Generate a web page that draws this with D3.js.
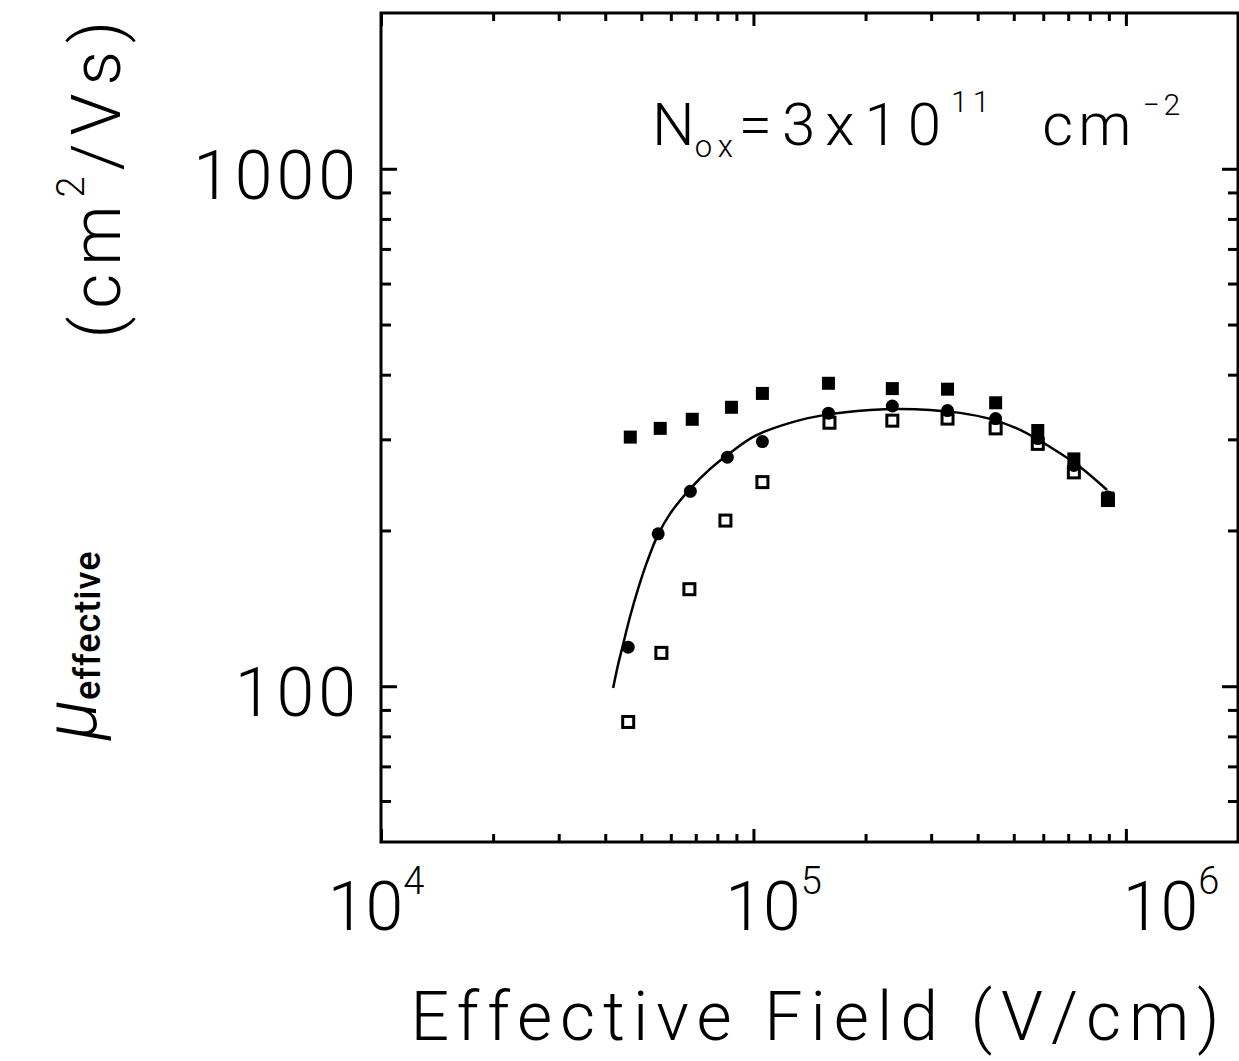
<!DOCTYPE html>
<html>
<head>
<meta charset="utf-8">
<script src="https://cdn.jsdelivr.net/npm/d3@7"></script>
<style>
  body { margin: 0; background: #fff; }
  text { font-family: Roboto, "Liberation Sans", sans-serif; font-weight: 300; fill: #000; }
  .domain { stroke: none; }
  .tick line { stroke: #000; stroke-width: 3; }
</style>
</head>
<body>
<svg id="chart" width="1239" height="1061"></svg>
<script>
// effective field (V/cm) and mobility (cm^2/Vs)
const fieldFilledSq = [46700, 56200, 68500, 87300, 105700, 159000, 236000, 332000, 447000, 580000, 725000, 895000];
const muFilledSq    = [303, 315, 328, 346, 368, 385, 376, 375, 353, 312, 275, 231];

const fieldCircle = [46100, 55500, 67700, 85100, 105700, 159000, 236000, 332000, 447000, 580000, 725000, 895000];
const muCircle    = [119, 197, 238, 277, 297, 337, 348, 341, 329, 301, 267, 232];

const fieldOpenSq = [46100, 56600, 67300, 84100, 105700, 160000, 236000, 332000, 447000, 580000, 725000, 895000];
const muOpenSq    = [85.3, 116, 154, 209, 248, 323, 326, 329, 315, 294, 259, 229];

// fitted curve
const fieldFit = [42000, 43300, 44700, 46600, 49000, 51800, 55400, 59700, 67600, 76500, 86500, 101000, 125400,
                  155700, 205600, 247600, 298000, 358800, 431900, 519900, 625900, 753400, 890000];
const muFit    = [99.2, 110, 120.7, 136.1, 154.2, 173.9, 196.1, 215.3, 240.6, 263, 282.4, 304.6, 322.8,
                  334.5, 342, 343.5, 342, 337.5, 328.6, 312.9, 290, 265.4, 239.5];

const xMajor = [1e4, 1e5, 1e6];
const xMinor = [2e4, 3e4, 4e4, 5e4, 6e4, 7e4, 8e4, 9e4, 2e5, 3e5, 4e5, 5e5, 6e5, 7e5, 8e5, 9e5, 2e6];
const yMajor = [100, 1000];
const yMinor = [60, 70, 80, 90, 200, 300, 400, 500, 600, 700, 800, 900];
const xTickExp = ['4', '5', '6'];

const svg = d3.select('#chart');
const plotL = 381, plotR = 1238, plotT = 13, plotB = 842;

const xScale = d3.scaleLog().domain([1e4, 2e6]).range([plotL, plotR]);
const yScale = d3.scaleLog().domain([50, 2000]).range([plotB, plotT]);
// the printed exponent labels sit a little right of their ticks
const xLabelScale = d3.scaleLog().domain([1e4, 1e6]).range([376, 1171]);

const fmt = () => '';

//ticks
svg.append('g').attr('transform', `translate(0,${plotB})`)
   .call(d3.axisBottom(xScale).tickValues(xMajor).tickSize(-13).tickFormat(fmt));
svg.append('g').attr('transform', `translate(0,${plotB})`)
   .call(d3.axisBottom(xScale).tickValues(xMinor).tickSize(-8).tickFormat(fmt));
svg.append('g').attr('transform', `translate(0,${plotT})`)
   .call(d3.axisTop(xScale).tickValues(xMajor).tickSize(-13).tickFormat(fmt));
svg.append('g').attr('transform', `translate(0,${plotT})`)
   .call(d3.axisTop(xScale).tickValues(xMinor).tickSize(-8).tickFormat(fmt));
svg.append('g').attr('transform', `translate(${plotL},0)`)
   .call(d3.axisLeft(yScale).tickValues(yMajor).tickSize(-16).tickFormat(fmt));
svg.append('g').attr('transform', `translate(${plotL},0)`)
   .call(d3.axisLeft(yScale).tickValues(yMinor).tickSize(-10).tickFormat(fmt));
svg.append('g').attr('transform', `translate(${plotR},0)`)
   .call(d3.axisRight(yScale).tickValues(yMajor).tickSize(-16).tickFormat(fmt));
svg.append('g').attr('transform', `translate(${plotR},0)`)
   .call(d3.axisRight(yScale).tickValues(yMinor).tickSize(-10).tickFormat(fmt));

// frame
svg.append('rect')
   .attr('x', plotL).attr('y', plotT)
   .attr('width', plotR - plotL).attr('height', plotB - plotT)
   .attr('fill', 'none').attr('stroke', '#000').attr('stroke-width', 3);

// y tick labels
svg.selectAll('.ylab')
   .data(yMajor)
   .enter().append('text')
   .attr('class', 'ylab')
   .attr('x', 360)
   .attr('y', d => yScale(d) + 30)
   .attr('text-anchor', 'end')
   .attr('font-size', 68)
   .attr('letter-spacing', 4)
   .text(d => d3.format('d')(d));

// x tick labels
const xl = svg.selectAll('.xlab')
   .data(xMajor)
   .enter().append('text')
   .attr('class', 'xlab')
   .attr('x', d => xLabelScale(d))
   .attr('y', 930)
   .attr('text-anchor', 'middle')
   .attr('font-size', 68);
xl.append('tspan').text('10');
xl.append('tspan').attr('dy', -36).attr('font-size', 38).text((d, i) => xTickExp[i]);

// x axis title
svg.append('text')
   .attr('x', 819).attr('y', 1040)
   .attr('text-anchor', 'middle')
   .attr('font-size', 68)
   .attr('letter-spacing', 8)
   .text('Effective  Field  (V/cm)');

// y axis title
const yt = svg.append('text')
   .attr('transform', 'translate(120,740) rotate(-90)');
yt.append('tspan').attr('font-size', 74).attr('font-style', 'italic').attr('dy', -24).text('\u03bc');
yt.append('tspan').attr('font-size', 36).attr('font-weight', 500).attr('letter-spacing', 1)
  .attr('dy', 4).text('effective');
yt.append('tspan').attr('font-size', 68).attr('letter-spacing', 8)
  .attr('dy', 20).attr('dx', 212).text('(cm');
yt.append('tspan').attr('font-size', 38).attr('dy', -36).text('2');
yt.append('tspan').attr('font-size', 68).attr('letter-spacing', 8).attr('dy', 36).attr('dx', 6).text('/Vs)');

// annotation
const ann = svg.append('text')
   .attr('x', 652).attr('y', 145)
   .attr('font-size', 60);
ann.append('tspan').text('N');
ann.append('tspan').attr('font-size', 31).attr('letter-spacing', 6).attr('dy', 12).text('ox');
ann.append('tspan').attr('letter-spacing', 10).attr('dy', -12).text('=3x10');
ann.append('tspan').attr('font-size', 30).attr('letter-spacing', 5).attr('dy', -33).text('11');
ann.append('tspan').attr('letter-spacing', 5).attr('dy', 33).attr('dx', 48).text('cm');
ann.append('tspan').attr('font-size', 30).attr('letter-spacing', 4).attr('dy', -30).attr('dx', 6).text('\u22122');

// fitted line
const fitData = fieldFit.map((f, i) => ({x: f, y: muFit[i]}));
const line = d3.line()
               .x(d => xScale(d.x))
               .y(d => yScale(d.y))
               .curve(d3.curveCatmullRom.alpha(0.5));
svg.append('path')
   .datum(fitData)
   .attr('d', line)
   .attr('fill', 'none')
   .attr('stroke', '#000')
   .attr('stroke-width', 2.5);

// markers
const filledSq = fieldFilledSq.map((f, i) => ({x: f, y: muFilledSq[i]}));
const circles = fieldCircle.map((f, i) => ({x: f, y: muCircle[i]}));
const openSq = fieldOpenSq.map((f, i) => ({x: f, y: muOpenSq[i]}));

svg.selectAll('.opensq')
   .data(openSq)
   .enter().append('rect')
   .attr('x', d => xScale(d.x) - 5.5)
   .attr('y', d => yScale(d.y) - 5.5)
   .attr('width', 11).attr('height', 11)
   .attr('fill', '#fff').attr('stroke', '#000').attr('stroke-width', 3);

svg.selectAll('.filledsq')
   .data(filledSq)
   .enter().append('rect')
   .attr('x', d => xScale(d.x) - 6.5)
   .attr('y', d => yScale(d.y) - 6.5)
   .attr('width', 13).attr('height', 13)
   .attr('fill', '#000');

svg.selectAll('.dot')
   .data(circles)
   .enter().append('circle')
   .attr('cx', d => xScale(d.x))
   .attr('cy', d => yScale(d.y))
   .attr('r', 6.5)
   .attr('fill', '#000');
</script>
</body>
</html>
